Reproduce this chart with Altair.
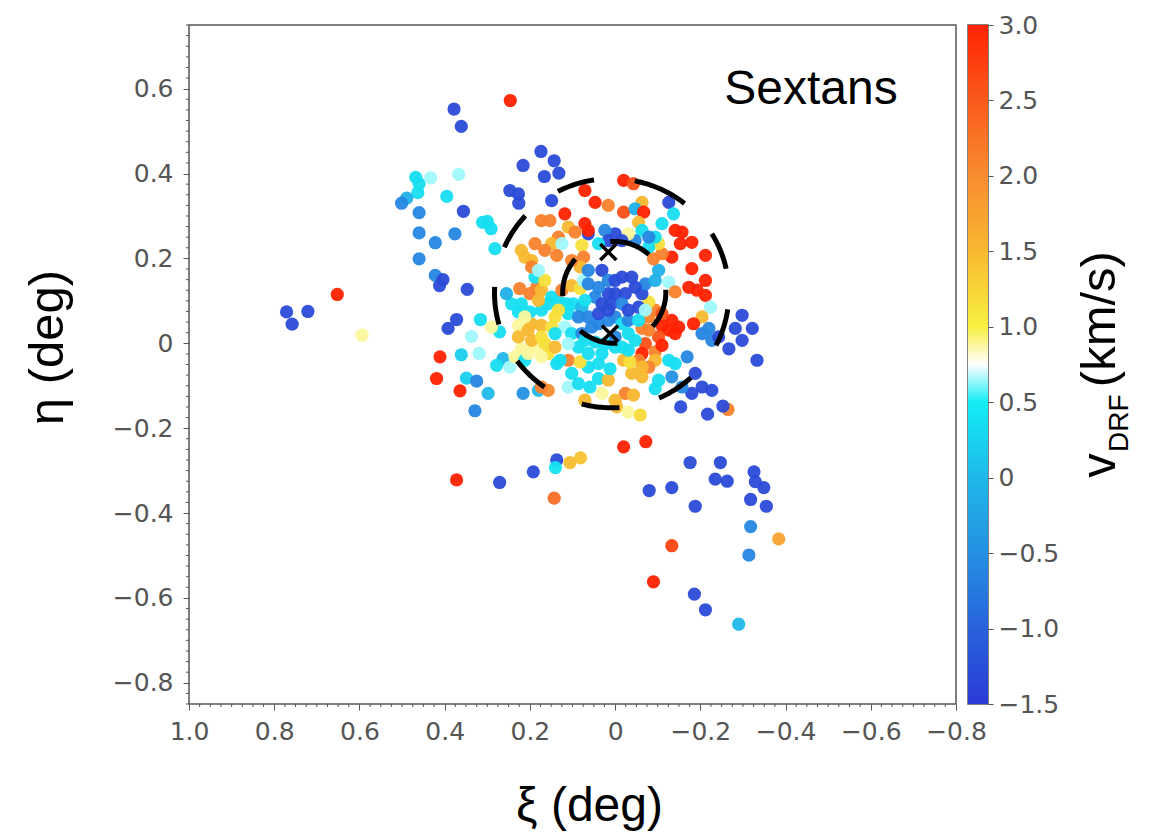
import altair as alt
import numpy as np
import pandas as pd

# Sextans members: standard coordinates (deg) and v_DRF (km/s)
STAR_XI = [
    0.378, 0.361, 0.246, 0.468, 0.460, 0.463, 0.433, 0.367, 0.489, 0.501,
    0.395, 0.356, 0.460, 0.460, 0.376, 0.422, 0.460, 0.422, 0.404, 0.412,
    0.347, 0.652, 0.771, 0.721, 0.758, 0.594, 0.372, 0.392, 0.316, 0.337,
    0.311, 0.411, 0.361, 0.319, 0.419, 0.349, 0.325, 0.364, 0.329, 0.372,
    0.271, 0.192, 0.137, 0.140, 0.106, 0.081, 0.143, -0.020, -0.072, -0.059,
    -0.154, -0.217, -0.265, -0.253, -0.176, -0.247, -0.080, -0.133, -0.235, -0.263,
    -0.326, -0.329, -0.349, -0.188, -0.318, -0.355, -0.318, -0.384, -0.133, -0.314,
    -0.090, -0.186, -0.212, -0.290, 0.174, 0.143, 0.216, 0.166, 0.132, 0.247,
    0.227, 0.226, 0.149, 0.300, 0.291, 0.282, 0.271, 0.290, 0.227, 0.220,
    0.263, 0.298, 0.216, 0.180, 0.157, 0.247, 0.278, 0.071, 0.047, 0.016,
    -0.020, -0.043, -0.020, -0.063, -0.047, -0.067, -0.055, -0.063, -0.126, -0.137,
    -0.110, -0.141, -0.157, -0.153, -0.180, -0.133, -0.212, -0.180, -0.212, -0.126,
    -0.173, -0.192, -0.212, -0.141, -0.224, -0.204, -0.184, -0.133, -0.149, -0.126,
    -0.110, -0.141, -0.102, -0.079, -0.071, -0.094, -0.063, -0.110, -0.094, -0.055,
    -0.079, -0.126, -0.141, -0.169, -0.204, -0.220, -0.227, -0.243, -0.267, -0.282,
    -0.298, -0.322, -0.333, -0.298, -0.188, -0.204, -0.227, -0.180, -0.157, -0.133,
    -0.102, -0.094, -0.063, -0.039, -0.063, -0.024, -0.043, 0.000, -0.004, 0.071,
    0.031, 0.059, 0.039, 0.016, 0.012, 0.063, 0.039, -0.020, -0.035, 0.110,
    0.082, 0.102, 0.129, 0.157, 0.173, 0.188, 0.165, 0.141, 0.173, 0.110,
    0.086, 0.235, 0.212, 0.137, 0.204, 0.204, 0.196, 0.173, 0.149, 0.141,
    0.200, 0.227, 0.243, 0.255, 0.224, 0.200, 0.184, 0.173, 0.188, 0.165,
    0.149, 0.133, 0.114, 0.098, 0.078, 0.110, 0.086, 0.063, 0.125, 0.102,
    0.082, 0.074, 0.118, 0.102, 0.078, 0.071, 0.047, 0.055, 0.039, 0.016,
    0.000, -0.016, -0.031, -0.031, -0.016, -0.047, -0.063, -0.079, -0.094, -0.110,
    -0.079, -0.063, -0.071, -0.094, -0.102, -0.090, -0.110, -0.102, -0.079, -0.094,
    -0.079, -0.047, -0.031, -0.016, 0.000, 0.024, 0.016, 0.063, 0.039, 0.071,
    0.063, 0.110, 0.094, 0.118, 0.173, 0.153, 0.133, 0.149, 0.125, 0.188,
    0.165, 0.137, 0.220, 0.196, 0.212, 0.196, 0.180, 0.078, 0.074, 0.082,
    0.102, 0.063, 0.031, 0.016, 0.000, -0.016, -0.039, -0.047, -0.024, 0.000,
    0.016, 0.039, 0.063, 0.047, 0.071, 0.031, 0.008, -0.016, -0.031, -0.055,
    0.016, 0.039, -0.055, -0.071, 0.000, 0.024, 0.000, -0.031, 0.031, 0.063,
    0.086, 0.110, 0.141, 0.173, 0.157, 0.133, 0.180, 0.220, 0.212, 0.227,
    0.196, 0.173, -0.030,
]
STAR_ETA = [
    0.552, 0.511, 0.572, 0.391, 0.376, 0.355, 0.390, 0.398, 0.342, 0.330,
    0.346, 0.311, 0.308, 0.260, 0.258, 0.237, 0.199, 0.160, 0.150, 0.136,
    0.127, 0.115, 0.074, 0.075, 0.045, 0.019, 0.056, 0.035, 0.056, 0.016,
    0.285, -0.032, -0.027, -0.024, -0.083, -0.082, -0.089, -0.112, -0.159, -0.322,
    -0.328, -0.303, -0.275, -0.293, -0.281, -0.270, -0.365, -0.244, -0.232, -0.169,
    -0.150, -0.167, -0.156, -0.148, -0.281, -0.281, -0.347, -0.340, -0.320, -0.325,
    -0.303, -0.326, -0.340, -0.384, -0.368, -0.384, -0.432, -0.461, -0.477, -0.499,
    -0.562, -0.591, -0.628, -0.662, 0.452, 0.430, 0.419, 0.393, 0.401, 0.360,
    0.352, 0.330, 0.336, 0.287, 0.270, 0.223, 0.027, 0.038, 0.042, -0.013,
    -0.036, -0.118, -0.118, -0.111, -0.111, -0.056, -0.052, 0.360, 0.332, 0.325,
    0.384, 0.376, 0.309, 0.332, 0.317, 0.309, 0.285, 0.266, 0.332, 0.305,
    0.282, 0.266, 0.262, 0.235, 0.238, 0.203, 0.207, 0.176, 0.148, 0.144,
    0.132, 0.125, 0.113, 0.121, 0.085, 0.062, 0.046, 0.054, 0.038, 0.031,
    0.042, 0.023, 0.015, 0.031, -0.001, -0.020, -0.024, -0.005, -0.040, -0.040,
    -0.056, -0.040, -0.048, -0.032, 0.023, 0.035, 0.007, 0.015, -0.013, 0.035,
    0.066, 0.035, -0.040, 0.007, -0.071, -0.103, -0.111, -0.118, -0.103, -0.079,
    -0.087, -0.107, -0.056, -0.071, -0.079, -0.118, -0.122, -0.134, -0.150, -0.134,
    -0.118, -0.103, -0.083, -0.087, -0.060, -0.056, -0.048, -0.040, -0.044, -0.040,
    -0.044, -0.071, -0.040, -0.024, -0.032, -0.009, 0.000, -0.009, -0.103, -0.103,
    -0.095, -0.032, -0.040, -0.048, -0.024, 0.031, 0.046, 0.042, 0.038, 0.062,
    0.074, 0.074, 0.093, 0.117, 0.129, 0.117, 0.132, 0.125, 0.156, 0.148,
    0.109, 0.101, 0.093, 0.093, 0.085, 0.070, 0.062, 0.062, 0.125, 0.136,
    0.129, 0.148, 0.038, 0.023, 0.023, 0.007, 0.003, 0.038, 0.046, 0.054,
    0.062, 0.046, 0.054, 0.023, -0.009, 0.007, 0.035, 0.062, 0.078, 0.070,
    0.097, 0.117, 0.140, 0.148, 0.172, 0.199, 0.211, 0.235, 0.227, 0.250,
    0.250, 0.242, 0.258, 0.242, 0.258, 0.266, 0.242, 0.258, 0.235, 0.282,
    0.266, 0.274, 0.262, 0.305, 0.289, 0.289, 0.250, 0.235, 0.235, 0.235,
    0.219, 0.207, 0.219, 0.195, 0.203, 0.180, 0.172, 0.231, 0.203, 0.180,
    0.195, 0.172, 0.172, 0.148, 0.148, 0.156, 0.156, 0.132, 0.117, 0.117,
    0.117, 0.132, 0.140, 0.109, 0.101, 0.093, 0.093, 0.093, 0.078, 0.085,
    0.078, 0.070, 0.054, 0.078, 0.015, -0.001, -0.009, -0.016, -0.024, -0.024,
    -0.009, -0.001, 0.023, 0.078, 0.093, 0.078, 0.101, 0.093, 0.062, 0.015,
    0.007, 0.015, -0.162,
]
STAR_V = [
    -1.3, -1.3, 3.0, 0.35, 0.35, 0.35, 0.65, 0.65, -0.1, -0.6,
    0.35, -1.3, -0.6, -0.6, -0.6, -0.6, -0.6, -0.6, -1.3, -1.3,
    -1.3, 3.0, -1.3, -1.3, -1.3, 0.88, -1.3, -1.3, 0.35, 0.65,
    0.35, 3.0, 0.2, 0.65, 3.0, 0.2, -0.6, 3.0, -0.6, 3.0,
    -1.3, -1.3, -1.3, 0.4, 1.45, 1.4, 2.3, 3.0, 3.0, 1.2,
    -1.3, -1.3, 2.1, -1.3, -1.3, -1.3, -1.3, -1.3, -1.3, -1.3,
    -1.3, -1.3, -1.3, -1.3, -1.3, -1.3, -0.6, 1.75, 2.7, -0.6,
    3.0, -1.3, -1.3, 0.0, -1.3, -1.3, -1.3, -1.3, -1.3, -1.3,
    -1.3, -1.3, -1.3, 0.35, 0.35, 0.35, 0.35, 0.88, 0.88, 0.88,
    0.0, 0.0, -0.5, 0.0, 2.0, 0.65, 0.35, 3.0, 3.0, 2.1,
    3.0, 2.6, 2.6, 1.5, -0.1, 3.0, 1.5, 0.35, -1.3, 0.35,
    0.35, 3.0, 3.0, 3.0, 3.0, 3.0, 3.0, 3.0, 3.0, 0.65,
    3.0, 3.0, 3.0, 2.1, 0.65, 1.5, 3.0, 3.0, 3.0, 3.0,
    3.0, 3.0, 2.6, 2.1, 2.6, 2.1, 3.0, 3.0, 1.5, 2.1,
    2.1, 0.35, 0.35, -0.6, -0.6, -0.6, -0.6, -1.3, -1.3, -1.3,
    -1.3, -1.3, -1.3, -1.3, -1.3, -1.3, -1.3, -1.3, -0.6, -0.5,
    0.35, 0.35, 1.5, 1.5, 1.5, 2.1, 1.5, 1.5, 1.5, 1.5,
    0.88, 0.35, 0.35, 1.5, 0.35, 0.35, 0.35, 1.5, 1.15, 2.1,
    1.15, 0.35, 0.35, 1.15, 0.88, 0.88, 1.15, 1.5, 2.1, 0.65,
    0.35, 0.88, 0.35, 0.35, 0.88, 1.5, 1.5, 1.5, 1.15, 1.15,
    0.35, 0.35, 0.35, -0.1, 2.1, 2.1, 2.1, 1.5, 0.35, 1.15,
    0.35, 0.35, 0.35, 0.35, 0.0, 0.35, -0.6, -0.6, 2.1, 1.5,
    1.15, 0.65, 0.65, 0.35, -0.6, 0.35, 0.35, -0.6, -0.6, -0.6,
    -0.6, 0.35, -0.6, 0.35, 0.35, 0.35, 2.1, 2.1, 2.1, 2.6,
    1.15, -1.3, -0.6, -0.1, -0.1, 2.1, 2.1, 1.15, 0.35, 0.35,
    -0.6, -0.6, 0.88, -1.3, -1.3, -0.6, -1.3, -1.3, 0.35, 3.0,
    3.0, 1.5, 2.1, 3.0, 2.1, 2.1, 2.1, 1.5, 0.65, 2.1,
    2.1, 2.1, 1.5, 1.5, 1.5, 2.1, 0.65, 1.15, 2.1, 1.5,
    2.1, -0.6, -1.3, -0.6, -1.3, -1.3, -1.3, -1.3, -1.3, -1.3,
    -1.3, -0.6, -0.6, -0.6, 0.35, -1.3, -1.3, -0.6, -1.3, -1.3,
    -1.3, -1.3, 0.35, 0.65, -0.6, 0.35, 0.35, 0.35, 0.35, 0.35,
    0.35, 0.65, 0.35, 0.35, 0.35, 1.15, 1.5, 0.35, 0.88, 1.5,
    1.5, 1.15, 0.88,
]

# dashed ellipses: centre (deg), semi-axes (deg), dash pattern (px), angle where dashing starts
OUTER_RING = {"xi": 0.008, "eta": 0.118, "a": 0.275, "b": 0.270, "dash": [38, 41], "start": 60}
INNER_RING = {"xi": 0.002, "eta": 0.120, "a": 0.121, "b": 0.120, "dash": [40, 40], "start": 50}

# centre markers
MARK_XI = [0.016, 0.012]
MARK_ETA = [0.215, 0.023]

# panel label
LABEL_TEXT = "Sextans"
LABEL_XI = -0.256
LABEL_ETA = 0.565

# axes and colour map
X_DOMAIN = [-0.8, 1.0]
Y_DOMAIN = [-0.85, 0.75]
X_MAJOR = [1.0, 0.8, 0.6, 0.4, 0.2, 0.0, -0.2, -0.4, -0.6, -0.8]
Y_MAJOR = [0.6, 0.4, 0.2, 0.0, -0.2, -0.4, -0.6, -0.8]
MINOR_STEP = 0.025
V_DOMAIN = [-1.5, 3.0]
V_TICKS = [-1.5, -1.0, -0.5, 0.0, 0.5, 1.0, 1.5, 2.0, 2.5, 3.0]
COLOR_DOMAIN = [-1.5, -1.0, -0.5, 0.0, 0.5, 0.75, 1.0, 1.5, 2.0, 2.5, 3.0]
COLOR_RANGE = ["#2b3bd6", "#2862dc", "#2490e2", "#1fb8ea", "#12eef4", "#ffffff",
               "#f8f040", "#f8b830", "#f88c30", "#fa5a1c", "#ff2200"]

PLOT_W, PLOT_H = 767, 679
BAR_W = 20
LABEL_FONT = "DejaVu Sans"
TITLE_FONT = "Liberation Sans"
GREY = "#555555"

stars = pd.DataFrame({"xi": STAR_XI, "eta": STAR_ETA, "v": STAR_V})


def ring_frame(r):
    t = np.deg2rad(np.arange(r["start"], r["start"] + 361, 1.0))
    # xi grows to the left, so the screen-x offset enters with a minus sign
    return pd.DataFrame({
        "xi": r["xi"] - r["a"] * np.cos(t),
        "eta": r["eta"] + r["b"] * np.sin(t),
        "k": np.arange(len(t)),
    })


def minor_ticks(lo, hi):
    n = int(round((hi - lo) / MINOR_STEP))
    vals = [round(lo + i * MINOR_STEP, 4) for i in range(n + 1)]
    return [v for v in vals if abs(v * 5 - round(v * 5)) > 1e-6]


xs = alt.Scale(domain=X_DOMAIN, reverse=True, nice=False, zero=False)
ys = alt.Scale(domain=Y_DOMAIN, nice=False, zero=False)
cs = alt.Scale(domain=COLOR_DOMAIN, range=COLOR_RANGE, interpolate="rgb", clamp=True)
vs = alt.Scale(domain=V_DOMAIN, nice=False, zero=False)

x_axis = alt.Axis(
    title="ξ (deg)", values=X_MAJOR, tickSize=6,
    labelExpr="abs(datum.value) < 1e-6 ? '0' : format(datum.value, '.1f')",
    labelOverlap=False, labelFlush=False, labelPadding=9,
    titleFont=TITLE_FONT, titleFontSize=48, titleFontWeight="normal", titleColor="black",
    titleX=400, titleY=116, titleBaseline="alphabetic", titleAlign="center",
)
y_axis = alt.Axis(
    title="η (deg)", values=Y_MAJOR, format=".1~f", tickSize=6,
    labelPadding=10, labelOverlap=False,
    titleFont=TITLE_FONT, titleFontSize=49, titleFontWeight="normal", titleColor="black",
    titleX=-127, titleY=322, titleAngle=270, titleBaseline="alphabetic", titleAlign="center",
)

points = alt.Chart(stars).mark_circle(size=175, opacity=0.95).encode(
    x=alt.X("xi:Q", scale=xs, axis=x_axis),
    y=alt.Y("eta:Q", scale=ys, axis=y_axis),
    color=alt.Color("v:Q", scale=cs, legend=None),
)

# short minor ticks along the left and bottom frame edges
x_minor = alt.Chart(pd.DataFrame({"xi": minor_ticks(*X_DOMAIN)})).mark_rule(
    color=GREY, strokeWidth=1
).encode(x="xi:Q", y=alt.value(PLOT_H), y2=alt.value(PLOT_H + 3))
y_minor = alt.Chart(pd.DataFrame({"eta": minor_ticks(*Y_DOMAIN)})).mark_rule(
    color=GREY, strokeWidth=1
).encode(y="eta:Q", x=alt.value(0), x2=alt.value(-3))

outer = alt.Chart(ring_frame(OUTER_RING)).mark_line(
    color="black", strokeWidth=5, strokeDash=OUTER_RING["dash"], strokeCap="butt"
).encode(x="xi:Q", y="eta:Q", order="k:Q")

inner = alt.Chart(ring_frame(INNER_RING)).mark_line(
    color="black", strokeWidth=5, strokeDash=INNER_RING["dash"], strokeCap="butt"
).encode(x="xi:Q", y="eta:Q", order="k:Q")

markers = alt.Chart(pd.DataFrame({"xi": MARK_XI, "eta": MARK_ETA})).mark_point(
    shape="M-1,-1L1,1M-1,1L1,-1", size=260, filled=False, color="black",
    strokeWidth=3.5, opacity=1,
).encode(x="xi:Q", y="eta:Q")

label = alt.Chart(pd.DataFrame({"xi": [LABEL_XI], "eta": [LABEL_ETA], "t": [LABEL_TEXT]})).mark_text(
    align="left", baseline="alphabetic", font=TITLE_FONT, fontSize=48, color="black"
).encode(x="xi:Q", y="eta:Q", text="t:N")

main = alt.layer(points, x_minor, y_minor, outer, inner, markers, label).properties(
    width=PLOT_W, height=PLOT_H
)

# colour bar: one rect filled with the same colour stops
gradient = alt.LinearGradient(
    gradient="linear", x1=0, y1=1, x2=0, y2=0,
    stops=[alt.GradientStop(color=c, offset=(d - V_DOMAIN[0]) / (V_DOMAIN[1] - V_DOMAIN[0]))
           for d, c in zip(COLOR_DOMAIN, COLOR_RANGE)],
)
bar_axis = alt.Axis(
    orient="right", title=None, values=V_TICKS, tickSize=5, labelPadding=5,
    labelOverlap=False, labelFlush=False,
    labelExpr="abs(datum.value) < 1e-6 ? '0' : format(datum.value, '.1f')",
)
bar_rect = alt.Chart(pd.DataFrame({"lo": [V_DOMAIN[0]], "hi": [V_DOMAIN[1]]})).mark_rect(
    color=gradient
).encode(
    y=alt.Y("lo:Q", scale=vs, axis=bar_axis),
    y2="hi:Q",
    x=alt.value(0), x2=alt.value(BAR_W),
)

# colour-bar title with subscript, written bottom-to-top
bar_title = pd.DataFrame({
    "t": ["v", "DRF", "(km/s)"],
    "lo": [0.0, 0.17, 0.60],
})
title_v = alt.Chart(bar_title.iloc[[0]]).mark_text(
    angle=270, align="left", baseline="alphabetic", font=TITLE_FONT, fontSize=49, color="black"
).encode(y=alt.Y("lo:Q", scale=vs), x=alt.value(147), text="t:N")
title_sub = alt.Chart(bar_title.iloc[[1]]).mark_text(
    angle=270, align="left", baseline="alphabetic", font=TITLE_FONT, fontSize=28, color="black"
).encode(y=alt.Y("lo:Q", scale=vs), x=alt.value(160), text="t:N")
title_unit = alt.Chart(bar_title.iloc[[2]]).mark_text(
    angle=270, align="left", baseline="alphabetic", font=TITLE_FONT, fontSize=49, color="black"
).encode(y=alt.Y("lo:Q", scale=vs), x=alt.value(147), text="t:N")

bar = alt.layer(bar_rect, title_v, title_sub, title_unit).properties(width=BAR_W, height=PLOT_H)

chart = alt.hconcat(main, bar, spacing=12, bounds="flush").properties(
    padding={"left": 22, "top": 12, "right": 5, "bottom": 0}
).configure_view(
    stroke=GREY, strokeWidth=1.5
).configure_axis(
    labelFont=LABEL_FONT, labelFontSize=25, labelColor=GREY,
    tickColor=GREY, domain=False, grid=False,
)

chart.save("out.html", embed_options={"renderer": "svg", "actions": False})
